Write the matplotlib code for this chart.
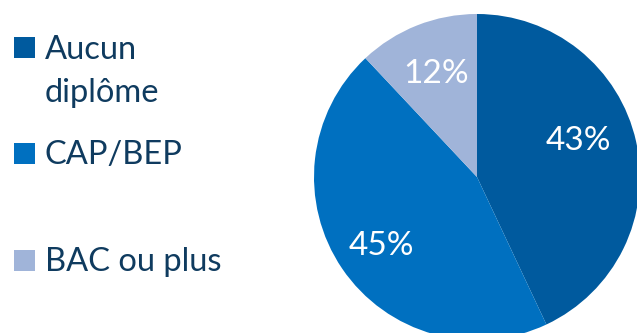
import matplotlib.pyplot as plt
from matplotlib.patches import Rectangle

# data
labels = ['Aucun\ndiplôme', 'CAP/BEP', 'BAC ou plus']
values = [43, 45, 12]
colors = ['#005A9E', '#0070C0', '#A0B4D9']
txtcol = '#0F3B5F'

plt.rcParams['font.family'] = ['Lato', 'DejaVu Sans']

W, H = 637, 333
fig = plt.figure(figsize=(W/100., H/100.), dpi=100)
ax = fig.add_axes([0, 0, 1, 1])

# pie, clipped on the right and at the bottom like the original slide
wedges, texts, autotexts = ax.pie(values, colors=colors, startangle=90, counterclock=False,
                                  center=(477, H-177), radius=163,
                                  autopct='%d%%', pctdistance=0.68,
                                  wedgeprops=dict(linewidth=0),
                                  textprops=dict(color='white', fontsize=24))
# small nudges of the percentage labels
for t, (dx, dy) in zip(autotexts, [(-7, 12), (-4, -7), (0, 0)]):
  x, y = t.get_position()
  t.set_position((x+dx, y+dy))
ax.set_xlim(0, W)
ax.set_ylim(0, H)
ax.set_aspect('equal')
ax.axis('off')

# legend drawn by hand: entries are not evenly spaced in the original
sq_top = [37, 143, 250]
for lbl, col, top in zip(labels, colors, sq_top):
  ax.add_patch(Rectangle((14, H-top-21), 21, 21, color=col, lw=0))
  nl = lbl.count('\n')
  # baseline of the last line
  ax.text(45, H-top-21-44*nl, lbl, color=txtcol, fontsize=23.5, va='baseline', ha='left',
          linespacing=1.55)

fig.savefig('out.png', dpi=100)
